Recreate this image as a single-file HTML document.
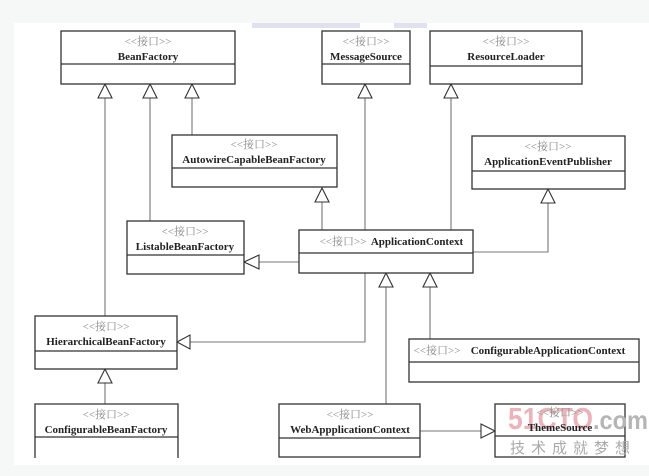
<!DOCTYPE html>
<html><head><meta charset="utf-8"><style>
html,body{margin:0;padding:0;background:#f6f7f7;width:649px;height:476px;overflow:hidden}
svg{display:block}
.b{fill:#fff;stroke:#333;stroke-width:1.3}
.d{stroke:#333;stroke-width:1.2}
.l{stroke:#777;stroke-width:1.1;fill:none}
.a{fill:#fff;stroke:#333;stroke-width:1.1}
.s{font-family:"Liberation Serif","Noto Serif CJK SC",serif;font-size:11px;fill:#888;text-anchor:middle}
.n{font-family:"Liberation Serif","Noto Serif CJK SC",serif;font-size:11px;font-weight:bold;fill:#222;text-anchor:middle}
</style></head><body>
<svg width="649" height="476" viewBox="0 0 649 476">
<rect x="14" y="23" width="635" height="442" fill="#fff"/>
<rect x="252" y="23" width="108" height="5" fill="#dfe1ee"/>
<rect x="394" y="23" width="33" height="5" fill="#dfe1ee"/>

<line class="l" x1="105" y1="98" x2="105" y2="316"/>
<line class="l" x1="150" y1="98" x2="150" y2="221"/>
<line class="l" x1="192" y1="98" x2="192" y2="135"/>
<line class="l" x1="365" y1="98" x2="365" y2="230"/>
<line class="l" x1="451" y1="98" x2="451" y2="230"/>
<line class="l" x1="322" y1="202" x2="322" y2="230"/>
<polyline class="l" points="548,203 548,252 473,252"/>
<line class="l" x1="259" y1="262" x2="299" y2="262"/>
<polyline class="l" points="365,273 365,342 190,342"/>
<line class="l" x1="386" y1="287" x2="386" y2="404"/>
<line class="l" x1="430" y1="287" x2="430" y2="339"/>
<line class="l" x1="105" y1="383" x2="105" y2="404"/>
<line class="l" x1="420" y1="431" x2="481" y2="431"/>

<polygon class="a" points="105,84 98,98 112,98"/>
<polygon class="a" points="150,84 143,98 157,98"/>
<polygon class="a" points="192,84 185,98 199,98"/>
<polygon class="a" points="365,84 358,98 372,98"/>
<polygon class="a" points="451,84 444,98 458,98"/>
<polygon class="a" points="322,188 315,202 329,202"/>
<polygon class="a" points="548,189 541,203 555,203"/>
<polygon class="a" points="244,262 259,255 259,269"/>
<polygon class="a" points="177,342 190,335 190,349"/>
<polygon class="a" points="386,273 379,287 393,287"/>
<polygon class="a" points="430,273 423,287 437,287"/>
<polygon class="a" points="105,369 98,383 112,383"/>
<polygon class="a" points="495,431 481,424 481,438"/>

<rect class="b" x="61" y="31" width="174" height="53"/><line class="d" x1="61" y1="64" x2="235" y2="64"/>
<text class="s" x="148" y="45">&lt;&lt;接口&gt;&gt;</text><text class="n" x="148" y="60">BeanFactory</text>

<rect class="b" x="322" y="31" width="88" height="53"/><line class="d" x1="322" y1="64" x2="410" y2="64"/>
<text class="s" x="366" y="45">&lt;&lt;接口&gt;&gt;</text><text class="n" x="366" y="60">MessageSource</text>

<rect class="b" x="430" y="31" width="152" height="53"/><line class="d" x1="430" y1="66" x2="582" y2="66"/>
<text class="s" x="506" y="45">&lt;&lt;接口&gt;&gt;</text><text class="n" x="506" y="60">ResourceLoader</text>

<rect class="b" x="172" y="135" width="165" height="52"/><line class="d" x1="172" y1="168" x2="337" y2="168"/>
<text class="s" x="254" y="148">&lt;&lt;接口&gt;&gt;</text><text class="n" x="254" y="163">AutowireCapableBeanFactory</text>

<rect class="b" x="472" y="136" width="153" height="53"/><line class="d" x1="472" y1="171" x2="625" y2="171"/>
<text class="s" x="548" y="150">&lt;&lt;接口&gt;&gt;</text><text class="n" x="548" y="165">ApplicationEventPublisher</text>

<rect class="b" x="127" y="221" width="117" height="53"/><line class="d" x1="127" y1="255" x2="244" y2="255"/>
<text class="s" x="185" y="235">&lt;&lt;接口&gt;&gt;</text><text class="n" x="185" y="250">ListableBeanFactory</text>

<rect class="b" x="299" y="230" width="174" height="43"/><line class="d" x1="299" y1="253" x2="473" y2="253"/>
<text class="s" x="343" y="245">&lt;&lt;接口&gt;&gt;</text><text class="n" x="417" y="245">ApplicationContext</text>

<rect class="b" x="35" y="316" width="142" height="53"/><line class="d" x1="35" y1="351" x2="177" y2="351"/>
<text class="s" x="106" y="330">&lt;&lt;接口&gt;&gt;</text><text class="n" x="106" y="345">HierarchicalBeanFactory</text>

<rect class="b" x="409" y="339" width="230" height="43"/><line class="d" x1="409" y1="362" x2="639" y2="362"/>
<text class="s" x="437" y="354">&lt;&lt;接口&gt;&gt;</text><text class="n" x="548" y="354">ConfigurableApplicationContext</text>

<path class="b" d="M35,458 V404 H178 V458"/><line class="d" x1="35" y1="437" x2="178" y2="437"/>
<text class="s" x="106" y="418">&lt;&lt;接口&gt;&gt;</text><text class="n" x="106" y="433">ConfigurableBeanFactory</text>

<rect class="b" x="279" y="404" width="141" height="53"/><line class="d" x1="279" y1="438" x2="420" y2="438"/>
<text class="s" x="350" y="418">&lt;&lt;接口&gt;&gt;</text><text class="n" x="350" y="433">WebAppplicationContext</text>

<rect class="b" x="495" y="404" width="130" height="53"/><line class="d" x1="495" y1="436" x2="625" y2="436"/>
<text x="508" y="429" font-family="Liberation Sans,sans-serif" font-size="31" font-weight="bold" fill="#e7a7ae" opacity="0.85" textLength="85" lengthAdjust="spacingAndGlyphs">51CTO</text>
<text x="593" y="429" font-family="Liberation Sans,sans-serif" font-size="26" font-weight="bold" fill="#b5b5b5" textLength="55" lengthAdjust="spacingAndGlyphs">.com</text>
<text x="510" y="453" font-family="Noto Sans CJK SC,sans-serif" font-size="15" fill="#aaa" letter-spacing="6">技术成就梦想</text>
<text class="s" x="560" y="416">&lt;&lt;接口&gt;&gt;</text><text class="n" x="560" y="431">ThemeSource</text>
</svg>
</body></html>
